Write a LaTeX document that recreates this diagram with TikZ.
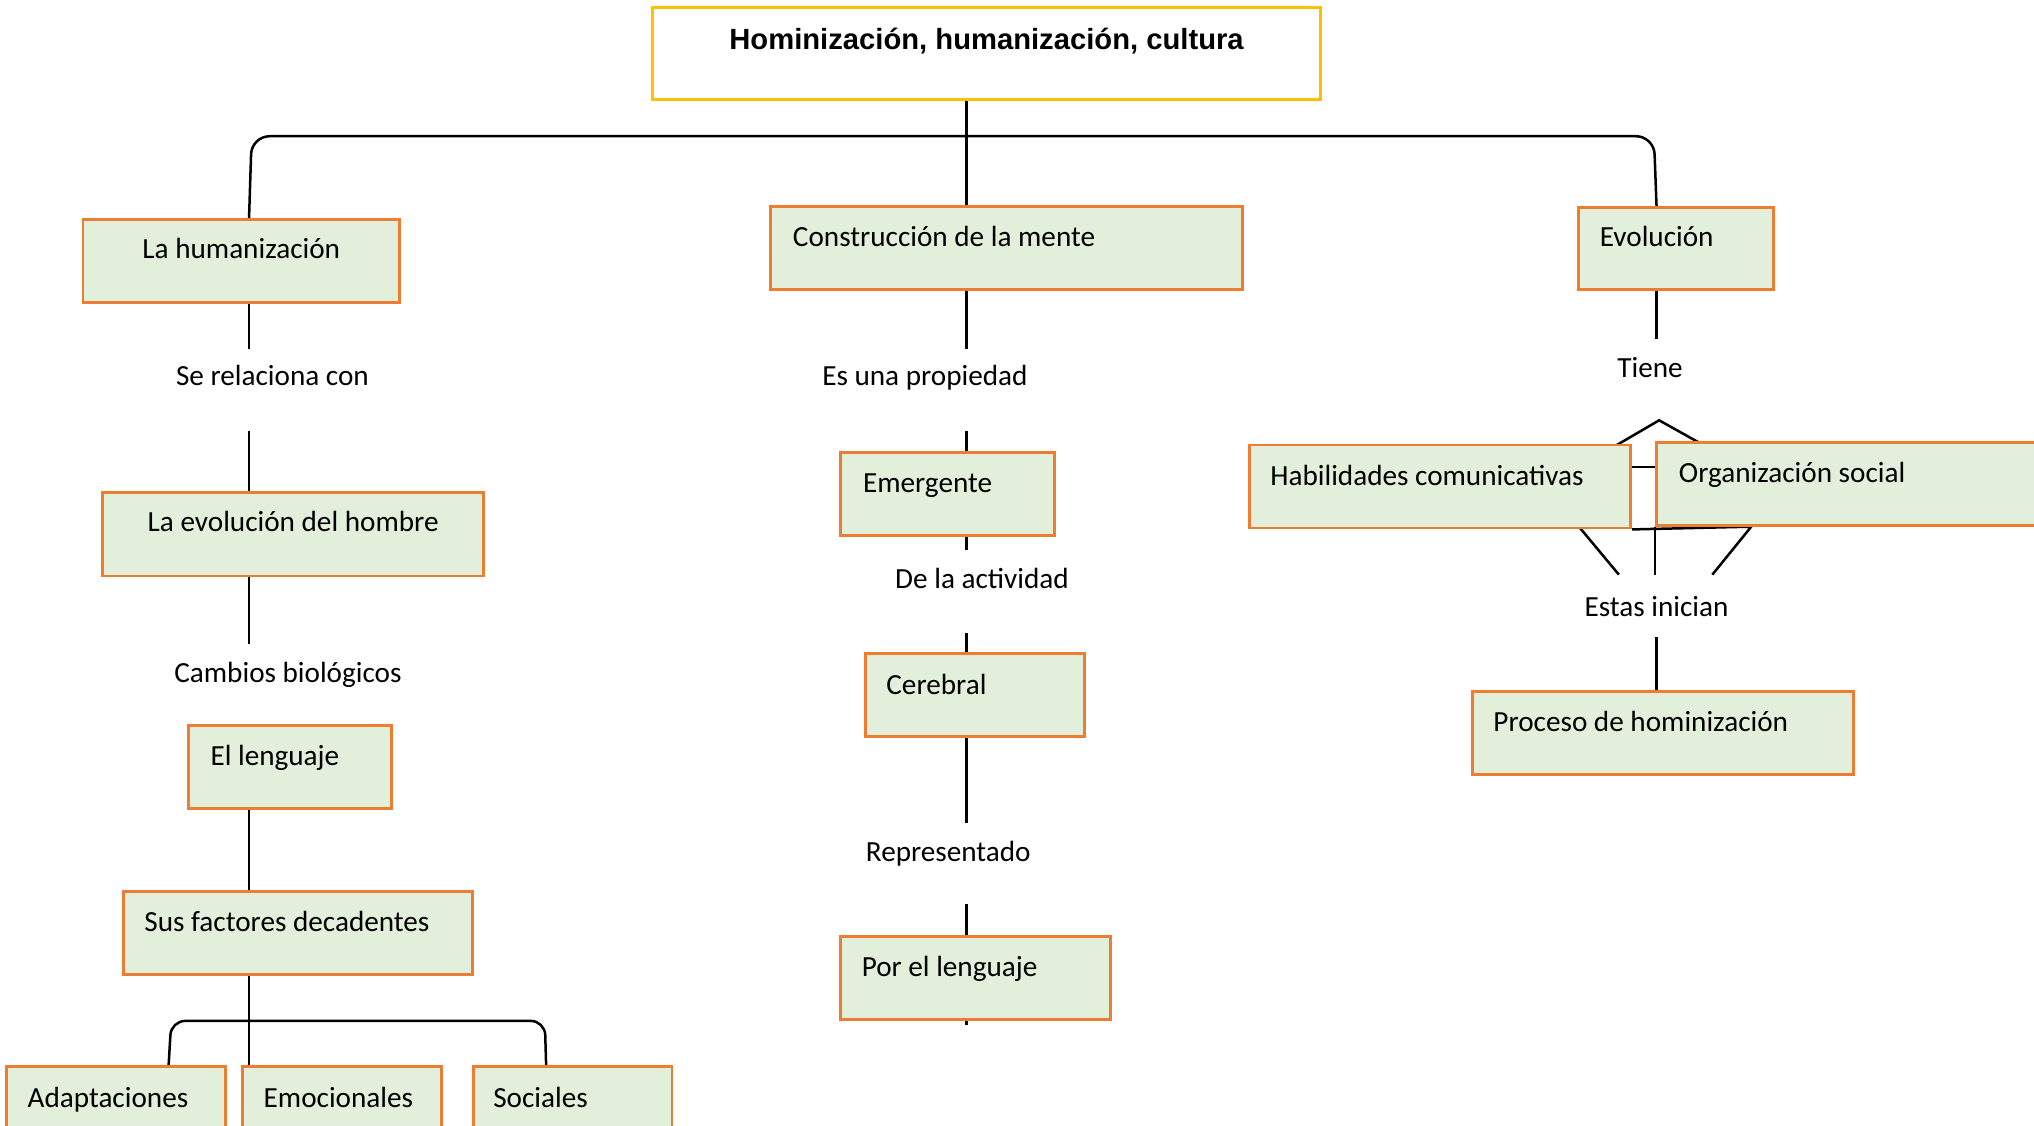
\documentclass[tikz,border=0pt]{standalone}
\usepackage{fontspec}
\setmainfont{Carlito}
\newfontfamily\titlefont{Liberation Sans}
\usetikzlibrary{fit,backgrounds}
\definecolor{boxgr}{HTML}{E2EFDA}
\definecolor{boxor}{HTML}{ED7D31}
\definecolor{titgold}{HTML}{FFC000}
\begin{document}
\begin{tikzpicture}[x=0.6486pt, y=-0.6486pt,
  box/.style={draw=boxor, fill=boxgr, line width=1.45pt, inner sep=0pt},
  titlebox/.style={draw=titgold, fill=white, line width=1.45pt, inner sep=0pt},
  txt/.style={inner sep=0pt, font=\fontsize{14.6pt}{17pt}\selectfont},
  ttl/.style={inner sep=0pt, font=\titlefont\bfseries\fontsize{14.6pt}{17pt}\selectfont},
  conn/.style={draw=black, line width=1.25pt}]
\clip (0,0) rectangle (1568,868);
\coordinate (colA) at (192,0);
\coordinate (colB) at (745,0);
\coordinate (colC) at (1277,0);
\coordinate (bl) at (130,0);
\coordinate (br) at (421,0);

% Title
\node[titlebox, fit={(503,6) (1018,77)}] (title) {};
\node[ttl, anchor=base] (titletext) at (760.5,38) {Hominización, humanización, cultura};

% First level
\node[box, fit={(64,169) (308,233)}] (hum) {};
\node[txt, anchor=base] (humt) at (186,199) {La humanización};
\node[box, fit={(594,159) (958,223)}] (men) {};
\node[txt, anchor=base west] (ment) at (611,190) {Construcción de la mente};
\node[box, fit={(1217,160) (1367,223)}] (evo) {};
\node[txt, anchor=base west] (evot) at (1233,190) {Evolución};

% Left column
\node[txt, anchor=base] (rel) at (210,297) {Se relaciona con};
\node[box, fit={(79,380) (373,444)}] (evh) {};
\node[txt, anchor=base] (evht) at (226,410) {La evolución del hombre};
\node[txt, anchor=base] (cam) at (222,526) {Cambios biológicos};
\node[box, fit={(145,559) (302,623)}] (len) {};
\node[txt, anchor=base west] (lent) at (162,590) {El lenguaje};
\node[box, fit={(95,687) (364,751)}] (fac) {};
\node[txt, anchor=base west] (fact) at (111,718) {Sus factores decadentes};
\node[box, fit={(5,822) (174,890)}] (ada) {};
\node[txt, anchor=base west] (adat) at (21,854) {Adaptaciones};
\node[box, fit={(187,822) (340,890)}] (emo) {};
\node[txt, anchor=base west] (emot) at (203,854) {Emocionales};
\node[box, fit={(365,822) (518,890)}] (soc) {};
\node[txt, anchor=base west] (soct) at (380,854) {Sociales};

% Middle column
\node[txt, anchor=base] (pro) at (713,297) {Es una propiedad};
\node[box, fit={(648,349) (813,413)}] (eme) {};
\node[txt, anchor=base west] (emet) at (665,380) {Emergente};
\node[txt, anchor=base] (act) at (757,454) {De la actividad};
\node[box, fit={(667,504) (836,568)}] (cer) {};
\node[txt, anchor=base west] (cert) at (683,535) {Cerebral};
\node[txt, anchor=base] (rep) at (731,664) {Representado};
\node[box, fit={(648,722) (856,786)}] (por) {};
\node[txt, anchor=base west] (port) at (664,753) {Por el lenguaje};

% Right column
\node[txt, anchor=base] (tie) at (1272,291) {Tiene};
\node[box, fit={(963,343) (1257,407)}] (hab) {};
\node[txt, anchor=base west] (habt) at (979,374) {Habilidades comunicativas};
\node[box, fit={(1277,341) (1600,405)}] (org) {};
\node[txt, anchor=base west] (orgt) at (1294,372) {Organización social};
\node[txt, anchor=base] (ini) at (1277,475) {Estas inician};
\node[box, fit={(1135,533) (1429,597)}] (hom) {};
\node[txt, anchor=base west] (homt) at (1151,564) {Proceso de hominización};

\begin{scope}[on background layer]
\fill[white] (0,0) rectangle (1568,868);
% top bracket
\draw[conn] (title.south -| colB) -- (men.north -| colB);
\draw[conn, rounded corners=9] (hum.north -| colA) -- (194,105) -- (1275,105) -- (evo.north -| colC);
% left column
\draw[conn] (hum.south -| colA) -- ++(0,35);
\draw[conn] (evh.north -| colA) -- ++(0,-47);
\draw[conn] (evh.south -| colA) -- ++(0,51);
\draw[conn] (len.south -| colA) -- (fac.north -| colA);
\draw[conn] (fac.south -| colA) -- (emo.north -| colA);
\draw[conn, rounded corners=7] (ada.north -| bl) -- (132,787) -- (420,787) -- (soc.north -| br);
% middle column
\draw[conn] (men.south -| colB) -- ++(0,45);
\draw[conn] (eme.north -| colB) -- ++(0,-16);
\draw[conn] (eme.south -| colB) -- ++(0,10);
\draw[conn] (cer.north -| colB) -- ++(0,-15);
\draw[conn] (cer.south -| colB) -- ++(0,65);
\draw[conn] (por.north -| colB) -- ++(0,-24);
\draw[conn] (por.south -| colB) -- ++(0,3);
% right column
\draw[conn] (evo.south -| colC) -- ++(0,37);
\draw[conn] (1243,345) -- (1279,324) -- (1313,343);
\draw[conn] (hab.east |- 0,360) -- (org.west |- 0,360);
\draw[conn] (hab.south east) -- (1350,406) -- (1320,443);
\draw[conn] (1218,407) -- (1248,443);
\draw[conn] (org.south west) -- ++(0,37);
\draw[conn] (hom.north -| colC) -- ++(0,-41);
\end{scope}
\end{tikzpicture}
\end{document}
